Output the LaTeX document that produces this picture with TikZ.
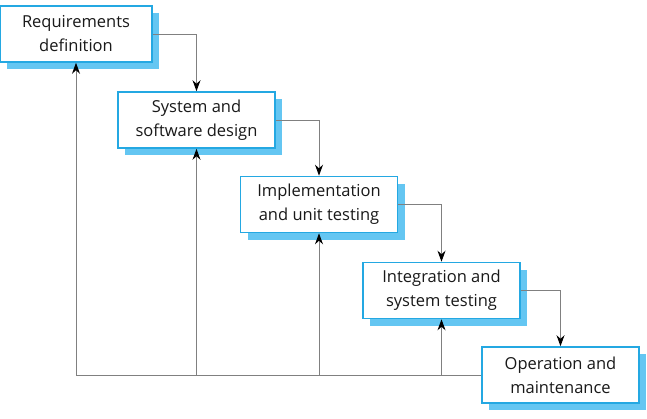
\documentclass[tikz,border=0pt]{standalone}
\usepackage{fontspec}
\setmainfont{Open Sans}
\usetikzlibrary{arrows.meta, shadows}
\definecolor{stageBlue}{RGB}{36,168,226}
\definecolor{stageShade}{RGB}{100,198,242}
\definecolor{flowGray}{RGB}{128,128,128}

\begin{document}
\begin{tikzpicture}[
    x=1pt, y=-1pt,
    stage/.style={rectangle, draw=stageBlue, line width=1.6pt, fill=white, minimum width=157pt, minimum height=56pt, align=center, font=\fontsize{16.5}{24}\selectfont, text=black!90, drop shadow={fill=stageShade, opacity=1, shadow xshift=7pt, shadow yshift=-7pt}},
    flow/.style={draw=flowGray, line width=1pt, -{Stealth[black, length=11pt, width=8pt]}}
]
\useasboundingbox (0,0) rectangle (647,418);

% Stages
\node[stage, minimum width=152pt] (req) at (76,34) {Requirements\\definition};
\node[stage] (design) at (196.5,120) {System and\\software design};
\node[stage] (impl) at (319,204.5) {Implementation\\and unit testing};
\node[stage] (integ) at (441.5,290.5) {Integration and\\system testing};
\node[stage] (maint) at (560.5,375) {Operation and\\maintenance};

% Forward flow
\draw[flow] (req.east) -| (design.north);
\draw[flow] (design.east) -| (impl.north);
\draw[flow] (impl.east) -| (integ.north);
\draw[flow] (integ.east) -| (maint.north);

% Feedback
\coordinate (base) at (maint.west);
\draw[flow] (base) -| (req.south);
\draw[flow] (design.south |- base) -- (design.south);
\draw[flow] (impl.south |- base) -- (impl.south);
\draw[flow] (integ.south |- base) -- (integ.south);
\end{tikzpicture}
\end{document}
